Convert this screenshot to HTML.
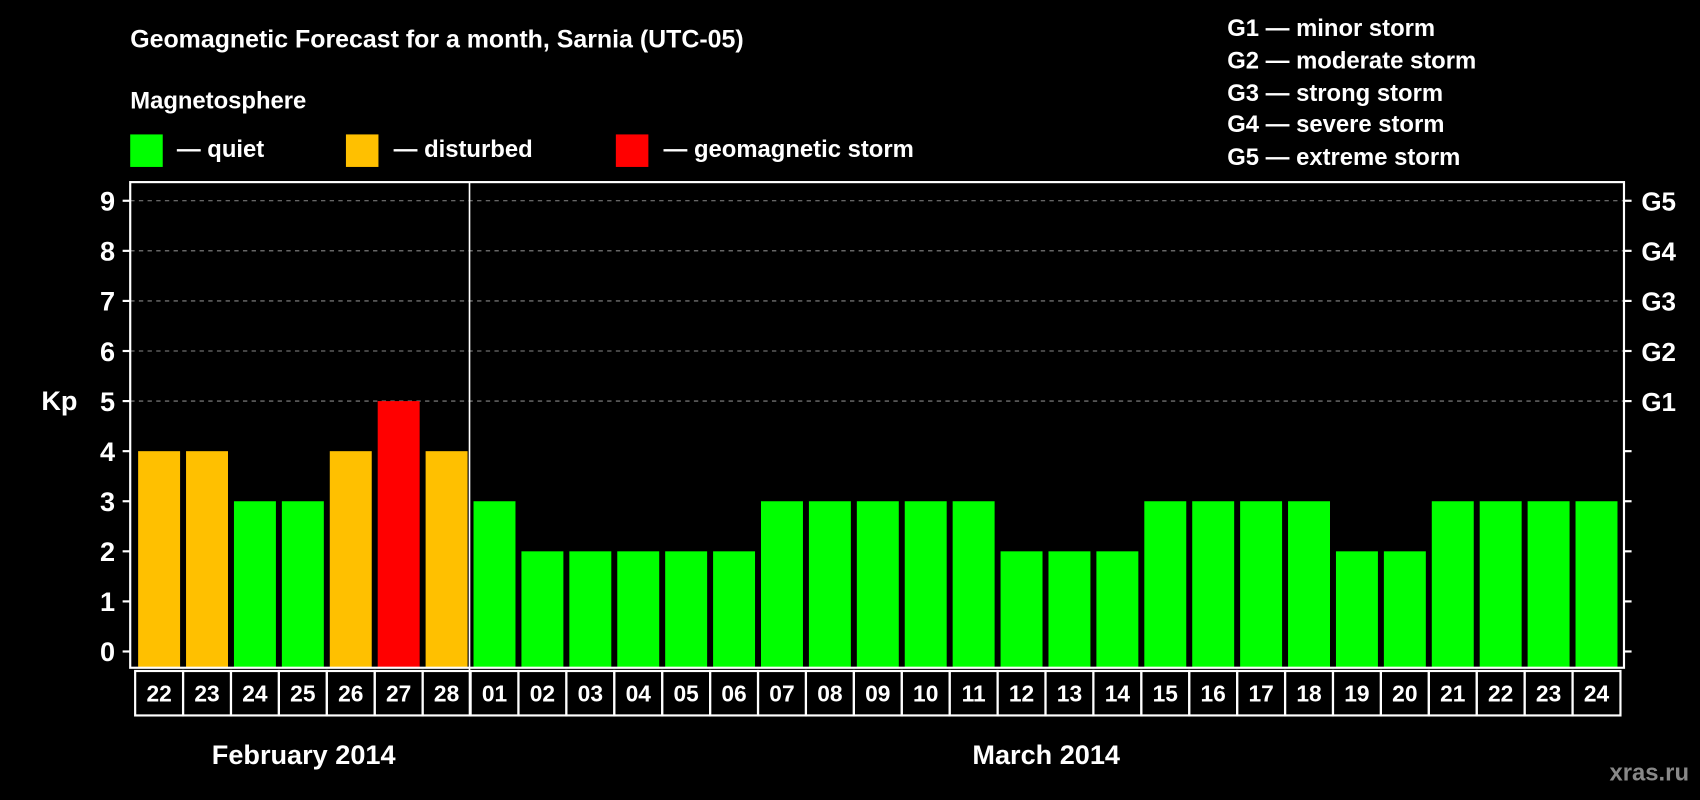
<!DOCTYPE html>
<html><head><meta charset="utf-8"><style>
html,body{margin:0;padding:0;background:#000;width:1700px;height:800px;overflow:hidden}
svg{display:block;font-family:"Liberation Sans",Arial,sans-serif;font-weight:bold}
</style></head><body>
<svg id="chart" width="1700" height="800" viewBox="0 0 1568 738" xmlns="http://www.w3.org/2000/svg">
<rect width="1568" height="738" fill="#000"/>
<text x="120" y="44" fill="#fff" font-size="23">Geomagnetic Forecast for a month, Sarnia (UTC-05)</text>
<text x="120" y="100" fill="#fff" font-size="22">Magnetosphere</text>
<g font-size="22" fill="#fff">
<rect x="120" y="124" width="30" height="30" fill="#00ff00"/>
<text x="163" y="145">— quiet</text>
<rect x="319" y="124" width="30" height="30" fill="#ffc000"/>
<text x="363" y="145">— disturbed</text>
<rect x="568" y="124" width="30" height="30" fill="#ff0000"/>
<text x="612" y="145">— geomagnetic storm</text>
</g>
<g font-size="22" fill="#fff">
<text x="1132" y="33">G1 — minor storm</text>
<text x="1132" y="63">G2 — moderate storm</text>
<text x="1132" y="93">G3 — strong storm</text>
<text x="1132" y="122">G4 — severe storm</text>
<text x="1132" y="152">G5 — extreme storm</text>
</g>
<text x="38" y="378" fill="#fff" font-size="25">Kp</text>
<g id="grid"></g><g id="bars"></g><g id="axes"></g><g id="days"></g>
<text x="280" y="705" text-anchor="middle" fill="#fff" font-size="25">February 2014</text>
<text x="965" y="705" text-anchor="middle" fill="#fff" font-size="25">March 2014</text>
<text x="1558" y="720" text-anchor="end" fill="#888" font-size="22">xras.ru</text>
</svg>
<script>
const days=["22","23","24","25","26","27","28","01","02","03","04","05","06","07","08","09","10","11","12","13","14","15","16","17","18","19","20","21","22","23","24"];
const kp=[4,4,3,3,4,5,4,3,2,2,2,2,2,3,3,3,3,3,2,2,2,3,3,3,3,2,2,3,3,3,3];
const yTicks=[0,1,2,3,4,5,6,7,8,9];
const gLabels=["G1","G2","G3","G4","G5"];
const NS="http://www.w3.org/2000/svg";
const L=120,R=1498,T=168,B=616,y0=601,unit=46.2;
const x0=127.3,pitch=44.2,bw=38.7;
const yS=v=>y0-v*unit;
const xS=i=>x0+i*pitch;
function mk(tag,attrs,parent,txt){const e=document.createElementNS(NS,tag);for(const k in attrs)e.setAttribute(k,attrs[k]);if(txt!==undefined)e.textContent=txt;parent.appendChild(e);return e;}
const grid=document.getElementById('grid'),bars=document.getElementById('bars'),axes=document.getElementById('axes'),dg=document.getElementById('days');
yTicks.forEach(v=>{
  if(v>=5){const l=mk('line',{x1:L,x2:R,y1:yS(v),y2:yS(v),stroke:'#888','stroke-dasharray':'4,4','stroke-width':1},grid);
  
  }
  const t=mk('text',{x:106,y:yS(v)+9,'text-anchor':'end',fill:'#fff','font-size':25},axes,String(v));
  
  
  mk('line',{x1:L-7,x2:L,y1:yS(v),y2:yS(v),stroke:'#fff','stroke-width':2},axes);
  mk('line',{x1:R,x2:R+7,y1:yS(v),y2:yS(v),stroke:'#fff','stroke-width':2},axes);
});
gLabels.forEach((g,i)=>{
  const t=mk('text',{x:1514,y:yS(5+i)+9,fill:'#fff','font-size':24},axes,g);
  
  
});
kp.forEach((v,i)=>{
  const c=v>=5?'#ff0000':(v>=4?'#ffc000':'#00ff00');
  const r=mk('rect',{x:xS(i),y:yS(v),width:bw,height:B-yS(v),fill:c},bars);
  
  
});
mk('rect',{x:L,y:T,width:R-L,height:B-T,fill:'none',stroke:'#fff','stroke-width':2},axes);
mk('line',{x1:433,x2:433,y1:T,y2:660,stroke:'#fff','stroke-width':1.5},axes);
days.forEach((d,i)=>{
  const cx=xS(i)+bw/2;
  mk('rect',{x:cx-pitch/2,y:619,width:pitch,height:41,fill:'none',stroke:'#fff','stroke-width':2},dg);
  const t=mk('text',{x:cx,y:647,'text-anchor':'middle',fill:'#fff','font-size':21},dg,d);
  
  
});
</script>
</body></html>
